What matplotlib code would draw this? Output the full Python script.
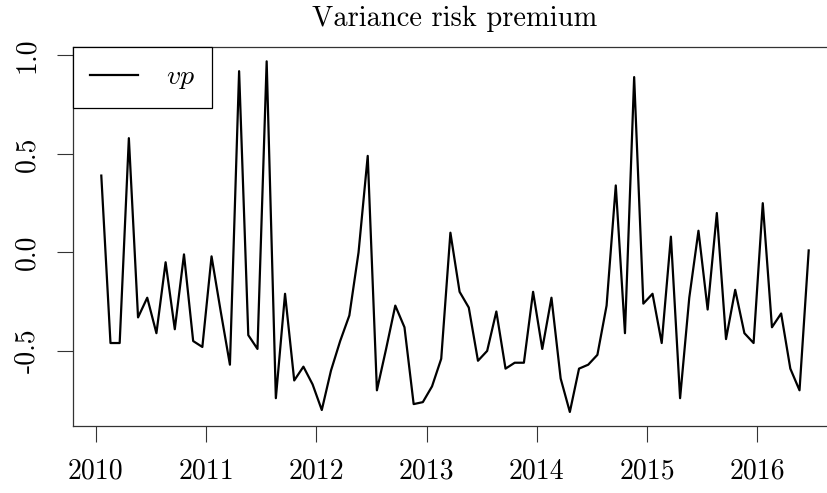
import matplotlib
matplotlib.use("Agg")
from matplotlib import pyplot as plt
import numpy as np

plt.rcParams['font.family'] = ['cmr10', 'DejaVu Serif']
plt.rcParams['mathtext.fontset'] = 'cm'
plt.rcParams['axes.formatter.use_mathtext'] = True

# monthly values, Jan 2010 .. Jun 2016
vp = [0.39, -0.46, -0.46, 0.58, -0.33, -0.23, -0.41, -0.05, -0.39, -0.01,
      -0.45, -0.48, -0.02, -0.30, -0.57, 0.92, -0.42, -0.49, 0.97, -0.74,
      -0.21, -0.65, -0.58, -0.67, -0.80, -0.60, -0.45, -0.32, 0.00, 0.49,
      -0.70, -0.49, -0.27, -0.38, -0.77, -0.76, -0.68, -0.54, 0.10, -0.20,
      -0.28, -0.55, -0.50, -0.30, -0.59, -0.56, -0.56, -0.20, -0.49, -0.23,
      -0.64, -0.81, -0.59, -0.57, -0.52, -0.27, 0.34, -0.41, 0.89, -0.26,
      -0.21, -0.46, 0.08, -0.74, -0.23, 0.11, -0.29, 0.20, -0.44, -0.19,
      -0.41, -0.46, 0.25, -0.38, -0.31, -0.59, -0.70, 0.01]
t = 2010 + (np.arange(len(vp)) + 0.6) / 12.0

xticks = [2010, 2011, 2012, 2013, 2014, 2015, 2016]
yticks = [-0.5, 0.0, 0.5, 1.0]
ylabels = ["-0.5", "0.0", "0.5", "1.0"]

W, H = 827, 493
fig = plt.figure(figsize=(W / 100, H / 100), dpi=100)
# plot region runs past the right edge of the picture, as in the original
ax = fig.add_axes([73 / W, (H - 426) / H, (837 - 73) / W, (426 - 47.3) / H])

ax.plot(t, vp, color='black', lw=1.6, label='$vp$')

# R style 4% padding
xr = max(t) - min(t)
ax.set_xlim(min(t) - 0.04 * xr, max(t) + 0.04 * xr)
yr = max(vp) - min(vp)
ax.set_ylim(min(vp) - 0.04 * yr, max(vp) + 0.04 * yr)

ax.set_xticks(xticks)
ax.set_xticklabels([str(v) for v in xticks])
ax.set_yticks(yticks)
ax.set_yticklabels(ylabels, rotation=90, va='center')
ax.tick_params(axis='both', direction='out', length=11.5, width=0.8,
               color='#333333', labelsize=20)
ax.tick_params(axis='x', pad=12)
ax.tick_params(axis='y', pad=12)
for s in ax.spines.values():
    s.set_linewidth(0.9)
    s.set_color('#333333')

leg = ax.legend(loc='upper left', fontsize=20, frameon=True, fancybox=False,
                edgecolor='black', framealpha=1, borderaxespad=0,
                handlelength=1.75, handletextpad=1.0, borderpad=0.6)
leg.get_frame().set_linewidth(0.9)

# title centred on the (cut off) plot region
fig.text(455 / W, 1 - 26 / H, 'Variance risk premium', ha='center', va='baseline',
         fontsize=20.5)

fig.savefig('out.png', dpi=100)
